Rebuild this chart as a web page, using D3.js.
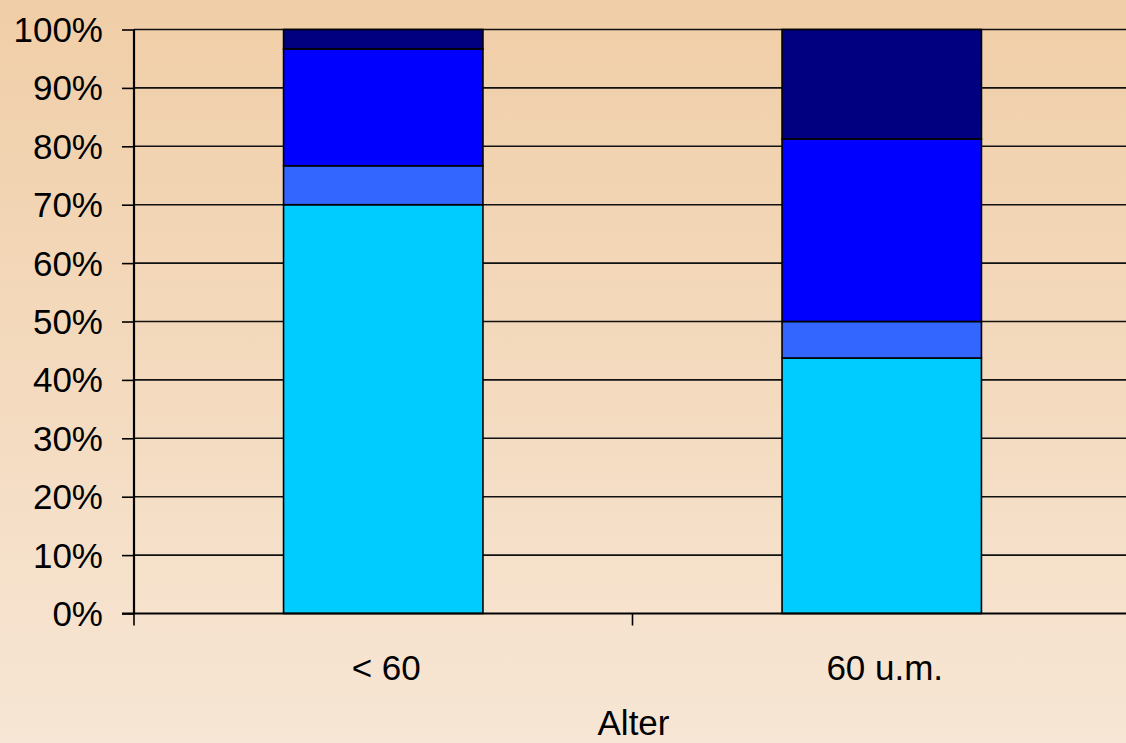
<!DOCTYPE html>
<html>
<head>
<meta charset="utf-8">
<script src="https://cdn.jsdelivr.net/npm/d3@7"></script>
<style>
html,body{margin:0;padding:0;}
body{width:1126px;height:743px;overflow:hidden;}
svg{display:block;}
text{font-family:"Liberation Sans",Arial,sans-serif;}
</style>
</head>
<body>
<svg id="chart" width="1126" height="743"></svg>
<script>
// Data (percent shares per age group)
const categories = ["< 60", "60 u.m."];
const seriesNames = ["S1", "S2", "S3", "S4"];
const s1 = [70.0, 43.75];
const s2 = [6.67, 6.25];
const s3 = [20.0, 31.25];
const s4 = [3.33, 18.75];
const yTicks = [0, 10, 20, 30, 40, 50, 60, 70, 80, 90, 100];
const colors = ["#00CCFF", "#3366FF", "#0000FF", "#000080"];
const xTitle = "Alter";

(function () {
const svg = d3.select("#chart");
const W = 1126, H = 743;

const defs = svg.append("defs");
const grad = defs.append("linearGradient").attr("id", "bg").attr("x1", 0).attr("y1", 0).attr("x2", 0).attr("y2", 1);
grad.append("stop").attr("offset", "0%").attr("stop-color", "#F0CEA7");
grad.append("stop").attr("offset", "100%").attr("stop-color", "#F7E6D5");
svg.append("rect").attr("width", W).attr("height", H).attr("fill", "url(#bg)");

const pLeft = 134, pRight = 1131, pTop = 29.5, pBottom = 613.5;

const x = d3.scaleBand().domain(categories).range([pLeft, pRight]).padding(0);
const y = d3.scaleLinear().domain([0, 100]).range([pBottom, pTop]);

// gridlines
svg.append("g").selectAll("line").data(yTicks.filter(d => d > 0)).join("line")
  .attr("x1", pLeft).attr("x2", pRight)
  .attr("y1", d => y(d)).attr("y2", d => y(d))
  .attr("stroke", "#111").attr("stroke-width", 1.6);

// stacked bars
const rows = categories.map((c, i) => ({cat: c, S1: s1[i], S2: s2[i], S3: s3[i], S4: s4[i]}));
const stacked = d3.stack().keys(seriesNames)(rows);
const barW = x.bandwidth() * 0.4;
svg.append("g").selectAll("g").data(stacked).join("g")
  .attr("fill", (d, i) => colors[i])
  .selectAll("rect").data(d => d).join("rect")
  .attr("x", d => x(d.data.cat) + (x.bandwidth() - barW) / 2)
  .attr("width", barW)
  .attr("y", d => y(d[1]))
  .attr("height", d => y(d[0]) - y(d[1]))
  .attr("stroke", "#000").attr("stroke-width", 1.6);

// y axis
const yAxis = d3.axisLeft(y).tickValues(yTicks).tickFormat(d => d + "%").tickSize(12).tickPadding(19);
const gy = svg.append("g").attr("transform", `translate(${pLeft},0)`).call(yAxis);
gy.select(".domain").attr("stroke", "#000").attr("stroke-width", 2.2).attr("d", `M0,${pTop}V${pBottom}`);
gy.selectAll(".tick line").attr("stroke", "#000").attr("stroke-width", 1.6);
gy.selectAll(".tick text").attr("font-size", 35).attr("fill", "#000").attr("font-family", "Liberation Sans, Arial, sans-serif").attr("dy", "0.34em");

// x axis line and boundary ticks
const gx = svg.append("g");
gx.append("line").attr("x1", pLeft - 12).attr("x2", pRight).attr("y1", pBottom).attr("y2", pBottom)
  .attr("stroke", "#000").attr("stroke-width", 2.2);
const bounds = categories.map(c => x(c)).concat([x(categories[categories.length - 1]) + x.bandwidth()]);
gx.selectAll("line.tk").data(bounds).join("line").attr("class", "tk")
  .attr("x1", d => d).attr("x2", d => d).attr("y1", pBottom).attr("y2", pBottom + 12)
  .attr("stroke", "#000").attr("stroke-width", 1.6);
gx.selectAll("text").data(categories).join("text")
  .attr("x", d => x(d) + x.bandwidth() / 2 + 3)
  .attr("y", 680)
  .attr("text-anchor", "middle").attr("font-size", 35).attr("fill", "#000")
  .text(d => d);

svg.append("text").attr("x", (pLeft + pRight) / 2 + 1).attr("y", 735)
  .attr("text-anchor", "middle").attr("font-size", 35).attr("fill", "#000").text(xTitle);
})();
</script>
</body>
</html>
